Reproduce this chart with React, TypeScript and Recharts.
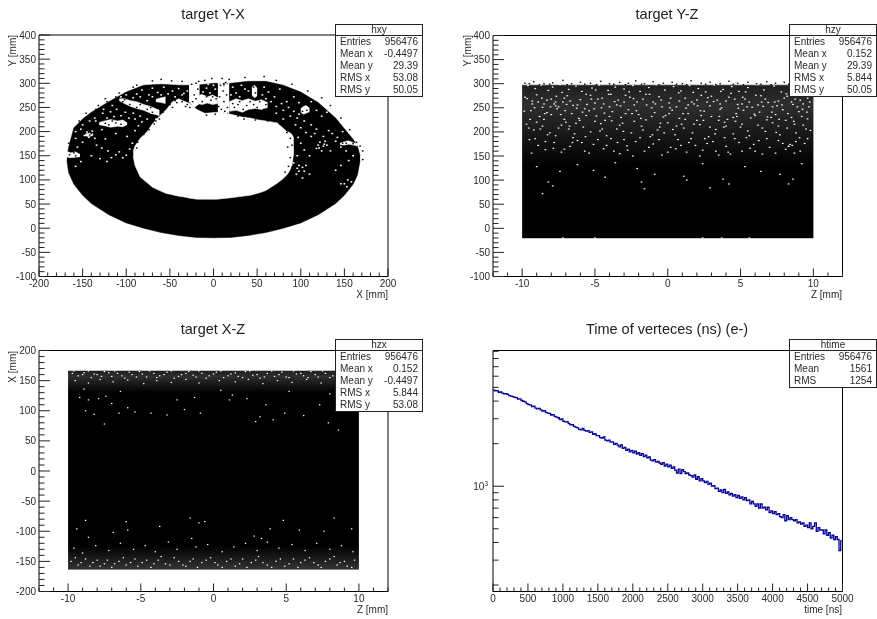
import { ComposedChart, Area, Line, Scatter, XAxis, YAxis } from "recharts";

// ---- values ----
const ringX = [-168, -166, -160, -150, -140, -120, -100, -80, -60, -40, -20, 0, 20, 40, 60, 80, 100, 120, 140, 150, 160, 165, 168];
const ringLow = [140, 115, 91, 68, 51, 28, 11, 0, -9, -15, -19, -20, -19, -15, -9, 0, 11, 28, 51, 68, 91, 110, 140];
const ringHigh = [150, 168, 208, 226, 240, 262, 282, 296, 298, 296, 296, 300, 300, 304, 304, 296, 282, 260, 228, 206, 184, 170, 150];
const holeX = [-92, -90, -84, -76, -70, -62, -54, -47, -40, -35, -27, -19, -10, 4, 20, 33, 42, 52, 60, 73, 78, 84, 87, 90, 92];
const holeLow = [148, 130, 106, 94, 85, 78, 72, 69, 66, 65, 62, 60, 60, 60, 63, 66, 68, 73, 78, 93, 100, 110, 118, 130, 155];
const holeHigh = [160, 170, 186, 200, 216, 232, 246, 262, 268, 264, 258, 246, 238, 240, 236, 230, 228, 224, 222, 218, 210, 200, 188, 174, 160];

const yxGaps: number[][][] = [
  [[-131, 214, 219], [-125, 212, 222], [-118, 209, 225], [-110, 211, 222], [-104, 210, 224], [-99, 214, 219]],
  [[-108, 264, 268], [-102, 258, 268], [-95, 252, 264], [-88, 248, 262], [-80, 244, 256], [-72, 238, 252], [-62, 233, 244]],
  [[-28, 262, 312], [-25, 256, 304], [-22, 250, 309], [-19, 254, 296], [-16, 258, 306]],
  [[-19, 258, 274], [-13, 256, 277], [-7, 259, 272], [-1, 256, 276], [5, 258, 270]],
  [[5, 236, 312], [7, 240, 298], [9, 234, 306], [12, 240, 292], [14, 234, 302], [16, 240, 296], [18, 236, 310]],
  [[18, 242, 262], [26, 244, 268], [33, 240, 264], [40, 246, 268], [48, 248, 263], [55, 246, 266], [62, 250, 260]],
  [[44, 276, 292], [47, 270, 296], [50, 274, 290]],
  [[100, 240, 248], [103, 236, 252], [106, 238, 254], [110, 241, 249]],
  [[145, 173, 176], [150, 172, 179], [155, 174, 181], [160, 172, 177], [165, 170, 175]],
  [[-169, 148, 160], [-164, 146, 156], [-158, 147, 158], [-153, 148, 153]],
  [[-147, 191, 195], [-142, 190, 197], [-138, 192, 196]],
  [[85, 194, 200], [89, 176, 196], [92, 160, 188]],
  [[-66, 262, 267], [-60, 260, 270], [-55, 258, 272]],
];

const yxWhite = [
  [-152, 205], [-148, 192], [-145, 199], [-143, 188], [-139, 201], [-136, 186], [-150, 178], [-156, 168], [-158, 186], [-134, 172], [-128, 166], [-112, 152],
  [-108, 158], [-104, 146], [-100, 151], [-117, 146], [-121, 160], [-96, 164], [-93, 176], [-99, 190], [-90, 202], [-86, 212], [-112, 196], [-124, 185],
  [-127, 238], [-118, 241], [-111, 246], [-136, 228], [-142, 222], [-128, 204], [-106, 233], [-92, 238], [-84, 232], [-76, 226], [-71, 238], [-66, 226],
  [-88, 278], [-82, 286], [-74, 276], [-70, 290], [-64, 281], [-57, 292], [-47, 284], [-40, 289], [-34, 279], [-8, 290], [-4, 280], [0, 296], [-10, 268],
  [26, 280], [32, 296], [40, 284], [58, 292], [63, 282], [70, 272], [76, 288], [84, 262], [92, 272], [98, 260], [112, 262], [118, 244], [124, 232], [130, 240],
  [96, 228], [104, 222], [112, 214], [118, 205], [126, 190], [122, 178], [130, 172], [118, 165], [124, 160], [128, 180], [136, 196], [142, 188], [132, 202],
  [146, 168], [152, 160], [160, 150], [155, 140], [150, 92], [153, 86], [158, 96], [98, 118], [102, 126], [95, 112], [106, 130], [110, 112], [92, 135],
  [-140, 150], [-130, 144], [-122, 138], [-152, 138], [-158, 128], [-75, 148], [-66, 128], [140, 120], [146, 130], [-150, 214], [-158, 200], [72, 238], [80, 244],
  [-135, 222], [-122, 228], [-114, 231], [-101, 240], [-97, 228], [-90, 226], [-82, 220], [-126, 246], [-116, 254], [-106, 272], [-100, 276], [-92, 270], [-84, 272], [-76, 264], [-70, 272], [-60, 276], [-52, 278], [-44, 272], [-36, 276], [-30, 284],
  [-12, 282], [-6, 298], [2, 288], [20, 276], [22, 292], [30, 272], [36, 288], [56, 276], [60, 268], [66, 262], [72, 252], [78, 258], [86, 250], [92, 242], [98, 236], [88, 232], [80, 226], [94, 214], [100, 208], [106, 198],
  [112, 190], [116, 196], [120, 172], [126, 170], [121, 166], [127, 174], [134, 160], [110, 150], [104, 162], [100, 176], [97, 188], [96, 150], [102, 104], [96, 124], [98, 130], [104, 118], [154, 100], [146, 92], [140, 180], [148, 200],
];
const yxBlack = [
  [-18, 288], [-22, 276], [-25, 298], [-17, 304], [-24, 262], [-20, 268], [8, 296], [11, 284], [14, 302], [7, 272], [12, 262], [16, 250], [9, 246], [15, 276],
  [-8, 272], [-3, 265], [3, 268], [-13, 262], [-1, 272], [22, 258], [30, 262], [38, 254], [46, 256], [53, 262], [60, 256], [48, 280], [46, 292], [52, 286],
  [-120, 214], [-112, 218], [-106, 215], [-124, 217], [-96, 256], [-88, 250], [-76, 246], [-70, 240], [-102, 266], [-92, 292], [-60, 308], [-48, 305], [-36, 304],
  [-2, 310], [18, 308], [36, 312], [58, 314], [72, 306], [90, 298], [108, 284], [124, 270], [134, 254], [146, 228], [156, 204], [-154, 222], [-146, 238], [-132, 254],
  [-124, 268], [-108, 280], [-88, 296], [-70, 305], [-52, 266], [-47, 250], [-58, 240], [-66, 222], [-76, 208], [-82, 198], [-30, 256], [-36, 262], [-42, 260],
  [28, 232], [35, 226], [48, 224], [62, 222], [76, 216], [84, 198], [88, 186], [90, 172], [93, 148], [94, 136], [90, 126], [96, 170], [102, 242], [107, 244],
  [152, 176], [160, 175], [-165, 152], [-158, 150], [-142, 193], [-88, 166], [-92, 180], [-80, 216], [-166, 176], [171, 142], [171, 160], [168, 170],
  [-50, 256], [-44, 264], [-39, 270], [-32, 252], [-27, 250], [-14, 244], [-8, 234], [2, 236], [-4, 250], [6, 252], [13, 242], [24, 250], [28, 256], [34, 246], [42, 262], [50, 250], [58, 246], [66, 240], [74, 232], [82, 222],
  [86, 210], [89, 200], [85, 168], [88, 146], [86, 128], [82, 116], [-94, 166], [-87, 178], [-80, 194], [-74, 204], [-68, 216], [-62, 226], [-72, 250], [-84, 256], [-94, 244], [-104, 262], [-112, 272], [-122, 262], [-135, 246], [-128, 224],
  [-116, 222], [-100, 222], [-132, 213], [-140, 196], [-160, 156], [-152, 150], [-148, 152], [148, 176], [164, 178], [92, 192], [96, 196], [-20, 300], [10, 310], [-10, 306],
];

const yzWhite = [
  [-9.6, 296], [-9.1, 290], [-8.7, 297], [-8.2, 286], [-7.9, 293], [-7.4, 298], [-6.8, 288], [-6.3, 295], [-5.9, 284], [-5.2, 291], [-4.7, 297], [-4.1, 286], [-3.6, 293], [-3.0, 289], [-2.4, 296], [-1.9, 284], [-1.3, 292], [-0.8, 298], [-0.2, 287], [0.4, 294], [0.9, 285], [1.5, 296], [2.1, 290], [2.6, 283], [3.2, 297], [3.8, 288], [4.4, 294], [4.9, 284], [5.5, 292], [6.1, 298], [6.6, 287], [7.3, 295], [7.8, 283], [8.4, 291], [8.9, 297], [9.5, 288],
  [-9.8, 272], [-9.3, 264], [-9.0, 277], [-8.5, 258], [-8.0, 268], [-7.7, 254], [-7.2, 262], [-6.9, 275], [-6.5, 255], [-6.0, 267], [-5.6, 278], [-5.0, 260], [-4.5, 270], [-4.0, 252], [-3.4, 266], [-2.9, 276], [-2.3, 256], [-1.7, 268], [-1.1, 250], [-0.6, 273], [0.1, 260], [0.6, 252], [1.2, 270], [1.8, 258], [2.3, 276], [2.9, 254], [3.4, 266], [3.7, 250], [4.2, 272], [4.8, 257], [5.3, 268], [5.8, 251], [6.4, 275], [6.9, 261], [7.5, 254], [8.0, 270], [8.6, 257], [9.1, 266], [9.7, 252],
  [-9.4, 244], [-8.8, 232], [-8.3, 240], [-7.6, 248], [-7.1, 226], [-6.6, 238], [-6.1, 228], [-5.4, 244], [-4.9, 233], [-4.3, 224], [-3.8, 242], [-3.2, 230], [-2.7, 246], [-2.0, 236], [-1.5, 225], [-0.9, 240], [-0.3, 231], [0.3, 245], [0.8, 228], [1.4, 238], [2.0, 224], [2.5, 243], [3.0, 232], [3.6, 247], [4.1, 226], [4.7, 238], [5.2, 245], [5.7, 229], [6.3, 241], [6.8, 225], [7.4, 236], [7.9, 246], [8.5, 230], [9.0, 242], [9.6, 227],
  [-9.7, 216], [-9.2, 204], [-8.6, 212], [-8.1, 198], [-7.5, 208], [-7.0, 220], [-6.4, 196], [-5.8, 210], [-5.3, 200], [-4.6, 217], [-4.2, 192], [-3.5, 206], [-3.1, 218], [-2.5, 198], [-1.8, 212], [-1.2, 190], [-0.7, 204], [0.0, 219], [0.5, 194], [1.1, 208], [1.7, 198], [2.2, 215], [2.8, 190], [3.3, 205], [3.9, 220], [4.5, 196], [5.0, 210], [5.6, 192], [6.2, 214], [6.7, 201], [7.2, 219], [7.7, 194], [8.2, 208], [8.8, 198], [9.3, 214], [9.8, 203],
  [-9.5, 184], [-8.9, 172], [-8.4, 163], [-7.8, 178], [-7.3, 158], [-6.7, 170], [-6.2, 182], [-5.7, 160], [-5.1, 174], [-4.4, 165], [-3.9, 186], [-3.3, 155], [-2.8, 171], [-2.2, 180], [-1.6, 160], [-1.0, 175], [-0.4, 152], [0.2, 168], [0.7, 184], [1.3, 158], [1.9, 172], [2.4, 162], [3.1, 180], [3.5, 152], [4.0, 170], [4.6, 186], [5.1, 160], [5.9, 174], [6.5, 154], [7.0, 168], [7.6, 182], [8.3, 170], [8.1, 164], [8.7, 156], [9.4, 176],
  [-9.0, 128], [-8.2, 96], [-7.9, 88], [-7.4, 118], [-6.2, 132], [-5.1, 120], [-4.3, 106], [-3.6, 136], [-2.1, 124], [-1.8, 96], [-0.9, 112], [1.1, 108], [1.3, 100], [2.4, 134], [2.9, 84], [3.8, 102], [4.2, 92], [5.3, 128], [6.4, 118], [7.7, 112], [8.3, 92], [8.6, 102], [9.2, 134], [-8.6, 72], [-1.6, 82],
  [-7.2, -20], [-5.0, -20], [2.4, -20], [3.7, -20], [5.6, -20],
  [-9.3, 258], [-8.9, 262], [-8.6, 251], [-8.3, 266], [-7.8, 258], [-7.5, 252], [-7.7, 262], [-7.1, 270], [-6.7, 264], [-6.2, 256], [-5.7, 248], [-5.3, 276], [-4.8, 268], [-4.4, 258], [-3.9, 278], [-3.5, 256], [-3.0, 262], [-2.6, 272], [-2.1, 262], [-1.5, 278], [-1.0, 262], [-0.4, 252], [0.2, 270], [0.8, 264], [1.4, 256], [2.0, 266], [2.7, 262], [3.0, 274], [3.6, 258], [4.0, 264], [4.6, 268], [5.1, 258], [5.6, 262], [6.2, 256], [6.7, 268], [7.2, 252], [7.6, 264], [8.2, 274], [8.5, 262], [8.9, 252], [9.3, 258], [9.6, 270],
  [-9.0, 220], [-8.5, 226], [-8.0, 236], [-7.3, 214], [-6.8, 206], [-6.3, 218], [-5.6, 234], [-5.0, 222], [-4.5, 206], [-4.0, 232], [-3.3, 214], [-2.9, 238], [-2.3, 222], [-1.7, 204], [-1.1, 232], [-0.5, 218], [0.1, 238], [0.6, 212], [1.2, 226], [1.8, 216], [2.3, 234], [2.9, 210], [3.5, 224], [4.0, 212], [4.5, 230], [5.1, 216], [5.5, 202], [6.0, 234], [6.5, 208], [7.1, 230], [7.6, 212], [8.1, 224], [8.3, 170], [8.4, 174], [8.7, 216], [9.2, 232], [9.5, 206],
  [-9.1, 186], [-8.4, 180], [-7.7, 192], [-7.1, 164], [-6.5, 188], [-5.9, 178], [-5.4, 156], [-4.8, 184], [-4.2, 172], [-3.7, 160], [-3.0, 184], [-2.4, 150], [-1.9, 188], [-1.3, 168], [-0.6, 184], [0.0, 158], [0.9, 172], [1.6, 186], [2.2, 150], [2.7, 176], [3.3, 160], [3.9, 188], [4.3, 154], [4.9, 178], [5.4, 188], [6.0, 160], [6.8, 186], [7.4, 156], [7.9, 176], [8.8, 180], [9.1, 160], [9.6, 186],
  [3.15, 263], [-6.25, 249], [8.15, 279], [-1.45, 256], [5.95, 237], [-9.65, 269], [0.75, 281], [-3.85, 223], [6.55, 253], [-7.65, 274], [2.25, 244], [-4.95, 287], [9.25, 247], [-0.15, 234], [4.35, 280], [-8.45, 238], [1.65, 262], [-5.55, 257], [7.15, 241], [-2.65, 283],
  [8.65, 222], [-6.75, 212], [0.35, 205], [-9.45, 226], [4.85, 249], [-2.15, 244], [6.05, 276], [-4.35, 239], [2.75, 271], [-8.05, 252], [9.45, 281], [-0.85, 258], [3.55, 232], [-5.25, 268], [7.35, 262], [-7.35, 236], [1.25, 249], [-3.25, 254], [5.35, 283], [-9.85, 243],
  [0.95, 216], [-6.05, 224], [8.25, 238], [-1.85, 228], [4.65, 222], [-8.75, 206], [2.05, 254], [-4.05, 278], [6.85, 231], [-7.25, 282], [9.75, 262], [-0.45, 266], [3.85, 210], [-5.05, 248], [7.85, 256], [-3.05, 201], [1.75, 282], [-9.15, 250], [5.15, 272], [-2.35, 269],
  [6.25, 182], [-8.25, 194], [0.55, 165], [-4.65, 202], [3.25, 196], [-6.55, 178], [9.05, 188], [-1.05, 194], [4.15, 158], [-7.85, 166], [7.45, 199], [-3.45, 178], [2.55, 186], [-5.65, 190], [8.55, 172], [-0.25, 198], [5.65, 166], [-9.35, 156], [1.45, 178], [-2.75, 162],
  [9.55, 241], [-6.95, 257], [3.65, 284], [-1.25, 278], [7.65, 226], [-5.85, 241], [0.15, 250], [-8.65, 270], [4.75, 232], [-3.65, 263], [6.45, 262], [-7.05, 244], [2.45, 224], [-4.55, 250], [8.75, 268], [-0.55, 210], [5.45, 252], [-9.55, 208], [1.05, 238], [-2.45, 238],
];
const yzBlack = [
  [-9.8, 301], [-9.2, 304], [-8.5, 300], [-7.9, 302], [-7.2, 307], [-6.6, 300], [-6.0, 303], [-5.3, 301], [-4.6, 305], [-4.0, 300], [-3.3, 303], [-2.7, 301], [-2.2, 306], [-1.6, 300], [-1.0, 304], [-0.3, 301], [0.3, 303], [1.0, 300], [1.6, 306], [2.3, 301], [2.9, 303], [3.6, 300], [4.2, 305], [4.8, 301], [5.5, 303], [6.1, 300], [6.8, 304], [7.4, 301], [8.0, 303], [8.6, 300], [9.3, 302], [9.8, 300],
  [-9.5, 300], [-8.8, 298], [-8.1, 299], [-6.9, 298], [-5.7, 299], [-4.9, 298], [-3.7, 299], [-2.9, 298], [-1.8, 299], [-0.6, 298], [0.6, 299], [1.3, 298], [2.6, 299], [3.3, 298], [4.5, 299], [5.2, 298], [6.4, 299], [7.1, 298], [8.3, 299], [9.0, 298], [9.6, 299],
];

const zxWhite = [
  [-9.7, 162], [-9.3, 158], [-8.9, 163], [-8.4, 155], [-8.0, 160], [-7.5, 165], [-7.0, 157], [-6.6, 162], [-6.1, 154], [-5.6, 160], [-5.1, 165], [-4.6, 156], [-4.1, 162], [-3.7, 158], [-3.2, 164], [-2.7, 154], [-2.2, 160], [-1.7, 165], [-1.2, 156], [-0.8, 162], [-0.3, 158], [0.2, 164], [0.7, 155], [1.2, 161], [1.7, 157], [2.2, 165], [2.7, 159], [3.2, 154], [3.7, 162], [4.2, 157], [4.7, 164], [5.2, 155], [5.7, 161], [6.2, 158], [6.7, 165], [7.2, 156], [7.7, 162], [8.2, 158], [8.7, 164], [9.2, 155], [9.7, 161],
  [-9.5, 150], [-8.6, 146], [-7.8, 152], [-6.9, 148], [-5.9, 151], [-4.8, 145], [-3.9, 150], [-2.9, 147], [-1.9, 152], [-1.0, 146], [0.4, 150], [1.5, 148], [2.4, 152], [3.4, 145], [4.4, 150], [5.4, 147], [6.4, 152], [7.4, 146], [8.4, 150], [9.4, 148],
  [-9.6, 166], [-9.0, 160], [-8.6, 166], [-8.2, 161], [-7.7, 157], [-7.2, 163], [-6.8, 166], [-6.3, 158], [-5.8, 164], [-5.3, 156], [-4.9, 161], [-4.4, 166], [-3.9, 155], [-3.4, 160], [-2.9, 166], [-2.4, 157], [-1.9, 162], [-1.4, 159], [-1.0, 166], [-0.5, 154], [0.0, 161], [0.5, 166], [1.0, 158], [1.5, 163], [2.0, 155], [2.5, 166], [3.0, 160], [3.5, 156], [4.0, 166], [4.5, 160], [5.0, 156], [5.5, 166], [6.0, 162], [6.5, 155], [7.0, 160], [7.5, 166], [8.0, 155], [8.5, 160], [9.0, 166], [9.5, 158],
  [-9.2, 122], [-8.6, 118], [-7.9, 120], [-7.4, 124], [-7.0, 112], [-8.8, 100], [-8.2, 94], [-6.5, 96], [-5.9, 105], [-5.4, 98], [-4.3, 96], [-3.2, 93], [-2.5, 118], [-2.0, 102], [-1.3, 122], [-0.9, 96], [1.1, 118], [1.3, 126], [2.3, 120], [2.9, 82], [3.2, 90], [3.6, 110], [4.1, 85], [4.9, 96], [6.2, 92], [7.3, 110], [7.9, 80], [8.4, 100], [8.6, 68], [-7.5, 78], [-8.9, 136], [-6.4, 132], [0.5, 134], [5.2, 132], [8.0, 128],
  [-9.4, -96], [-8.6, -110], [-8.8, -82], [-6.9, -102], [-6.0, -84], [-5.9, -98], [-3.7, -92], [-1.6, -78], [-1.0, -86], [-0.6, -84], [2.8, -108], [3.3, -112], [3.9, -96], [4.8, -82], [5.9, -98], [7.6, -100], [8.3, -78], [9.5, -96],
  [-9.6, -128], [-9.0, -136], [-8.1, -124], [-7.2, -132], [-6.4, -120], [-5.5, -130], [-4.7, -124], [-4.0, -134], [-3.1, -118], [-2.5, -130], [-1.5, -112], [-1.2, -126], [-0.4, -122], [0.6, -134], [1.4, -126], [2.2, -120], [3.0, -132], [3.7, -118], [4.5, -128], [5.4, -122], [6.3, -132], [7.1, -120], [8.0, -130], [8.8, -124], [9.6, -134],
  [-9.8, -150], [-9.3, -156], [-8.8, -146], [-8.3, -152], [-7.8, -158], [-7.3, -148], [-6.8, -154], [-6.2, -144], [-5.7, -152], [-5.2, -158], [-4.6, -148], [-4.1, -154], [-3.6, -142], [-3.0, -156], [-2.4, -150], [-1.9, -158], [-1.4, -146], [-0.8, -152], [-0.2, -144], [0.3, -156], [0.9, -150], [1.5, -158], [2.0, -146], [2.6, -152], [3.1, -142], [3.7, -156], [4.3, -150], [4.9, -158], [5.5, -146], [6.0, -152], [6.6, -144], [7.2, -156], [7.7, -150], [8.3, -142], [8.7, -152], [9.2, -158], [9.7, -148],
  [-9.5, -144], [-9.1, -152], [-8.5, -158], [-8.0, -148], [-7.5, -154], [-7.0, -160], [-6.5, -150], [-6.0, -156], [-5.4, -146], [-4.9, -152], [-4.3, -160], [-3.8, -148], [-3.3, -154], [-2.7, -144], [-2.1, -156], [-1.6, -150], [-1.1, -160], [-0.5, -148], [0.1, -152], [0.6, -160], [1.2, -146], [1.8, -154], [2.3, -160], [2.9, -148], [3.4, -152], [4.0, -160], [4.6, -146], [5.2, -154], [5.8, -160], [6.3, -148], [6.9, -152], [7.4, -160], [8.0, -146], [8.5, -156], [9.0, -150], [9.5, -160],
];

const timeStep = 25;
const timeCounts = [
  4790, 4720, 4740, 4620, 4650, 4560, 4510, 4520, 4470, 4380, 4340, 4300, 4250, 4230, 4130, 4150, 4040, 3990, 3950, 3840,
  3780, 3760, 3660, 3690, 3570, 3530, 3550, 3470, 3400, 3430, 3330, 3290, 3270, 3190, 3210, 3120, 3080, 3050, 2960, 2990,
  2880, 2850, 2860, 2770, 2720, 2730, 2650, 2620, 2590, 2520, 2500, 2560, 2480, 2450, 2470, 2400, 2420, 2330, 2350, 2280,
  2280, 2210, 2190, 2230, 2120, 2090, 2120, 2050, 2060, 1980, 2010, 1950, 1900, 1960, 1850, 1880, 1790, 1830, 1750, 1790,
  1720, 1770, 1690, 1730, 1650, 1700, 1620, 1660, 1590, 1610, 1530, 1510, 1540, 1480, 1500, 1460, 1430, 1470, 1390, 1430,
  1370, 1410, 1340, 1370, 1300, 1240, 1320, 1230, 1310, 1270, 1230, 1240, 1200, 1190, 1160, 1200, 1120, 1170, 1090, 1130,
  1090, 1060, 1080, 1030, 1050, 1000, 1010, 960, 970, 920, 940, 900, 950, 890, 910, 870, 890, 850, 870, 830,
  860, 820, 840, 800, 830, 790, 800, 750, 780, 750, 720, 750, 700, 750, 700, 710, 680, 710, 650, 670,
  640, 660, 630, 640, 610, 600, 630, 570, 620, 580, 600, 580, 570, 580, 550, 560, 540, 550, 520, 530,
  510, 550, 500, 520, 550, 480, 510, 490, 490, 460, 490, 450, 470, 430, 450, 420, 440, 420, 350, 410, 410,
];

const ticksEvery10Y = [-100, -90, -80, -70, -60, -50, -40, -30, -20, -10, 0, 10, 20, 30, 40, 50, 60, 70, 80, 90, 100, 110, 120, 130, 140, 150, 160, 170, 180, 190, 200, 210, 220, 230, 240, 250, 260, 270, 280, 290, 300, 310, 320, 330, 340, 350, 360, 370, 380, 390, 400];
const majorY = [-100, -50, 0, 50, 100, 150, 200, 250, 300, 350, 400];
const ticksEvery10X = [-200, -190, -180, -170, -160, -150, -140, -130, -120, -110, -100, -90, -80, -70, -60, -50, -40, -30, -20, -10, 0, 10, 20, 30, 40, 50, 60, 70, 80, 90, 100, 110, 120, 130, 140, 150, 160, 170, 180, 190, 200];
const majorX = [-200, -150, -100, -50, 0, 50, 100, 150, 200];
const ticksZ = [-12, -11, -10, -9, -8, -7, -6, -5, -4, -3, -2, -1, 0, 1, 2, 3, 4, 5, 6, 7, 8, 9, 10, 11, 12];
const majorZ = [-10, -5, 0, 5, 10];
const ticksTime = [0, 100, 200, 300, 400, 500, 600, 700, 800, 900, 1000, 1100, 1200, 1300, 1400, 1500, 1600, 1700, 1800, 1900, 2000, 2100, 2200, 2300, 2400, 2500, 2600, 2700, 2800, 2900, 3000, 3100, 3200, 3300, 3400, 3500, 3600, 3700, 3800, 3900, 4000, 4100, 4200, 4300, 4400, 4500, 4600, 4700, 4800, 4900, 5000];
const majorTime = [0, 500, 1000, 1500, 2000, 2500, 3000, 3500, 4000, 4500, 5000];
const ticksLog = [200, 300, 400, 500, 600, 700, 800, 900, 1000, 2000, 3000, 4000, 5000, 6000, 7000, 8000, 9000];

const statsYX = [["Entries", "956476"], ["Mean x", "-0.4497"], ["Mean y", "29.39"], ["RMS x", "53.08"], ["RMS y", "50.05"]];
const statsYZ = [["Entries", "956476"], ["Mean x", "0.152"], ["Mean y", "29.39"], ["RMS x", "5.844"], ["RMS y", "50.05"]];
const statsZX = [["Entries", "956476"], ["Mean x", "0.152"], ["Mean y", "-0.4497"], ["RMS x", "5.844"], ["RMS y", "53.08"]];
const statsTime = [["Entries", "956476"], ["Mean", "1561"], ["RMS", "1254"]];

// ---- tables for the library ----
const W = 877;
const H = 619;
const FONT = '"Liberation Sans", Arial, sans-serif';
const TEXT = "#2a2a2a";

const bandsOf = (xs: number[], lows: number[], highs: number[]) => xs.map((x, i) => ({ x, band: [lows[i], highs[i]] }));
const gapOf = (rows: number[][]) => rows.map((r) => ({ x: r[0], band: [r[1], r[2]] }));
const pointsOf = (rows: number[][]) => rows.map((r) => ({ x: r[0], y: r[1] }));

const ringData = bandsOf(ringX, ringLow, ringHigh);
const holeData = bandsOf(holeX, holeLow, holeHigh);
const timeData = timeCounts.map((v, i) => ({ x: i * timeStep, y: v }));

const yzBody = bandsOf([-10, 10], [-20, -20], [297, 297]);
const yzHaze = bandsOf([-10, 10], [130, 130], [297, 297]);
const zxBody = bandsOf([-10, 10], [-163, -163], [166, 166]);
const zxHazeTop = bandsOf([-10, 10], [130, 130], [166, 166]);
const zxHazeBottom = bandsOf([-10, 10], [-163, -163], [-125, -125]);

const speck = (w: number, h: number, fill: string) => (p: any) => (
  <rect x={p.cx - w / 2} y={p.cy - h / 2} width={w} height={h} fill={fill} />
);

const bottomTick = (majors: number[]) => (p: any) => {
  const v = p.payload.value;
  const big = majors.includes(v);
  return (
    <g>
      <line x1={p.x} x2={p.x} y1={p.y} y2={p.y - (big ? 8 : 4)} stroke="#222" />
      {big && (
        <text x={p.x} y={p.y + 10} textAnchor="middle" fontSize={10} fontFamily={FONT} fill={TEXT}>
          {v}
        </text>
      )}
    </g>
  );
};

const leftTick = (majors: number[]) => (p: any) => {
  const v = p.payload.value;
  const big = majors.includes(v);
  return (
    <g>
      <line x1={p.x} x2={p.x + (big ? 11 : 5.5)} y1={p.y} y2={p.y} stroke="#222" />
      {big && (
        <text x={p.x - 3} y={p.y + 3.5} textAnchor="end" fontSize={10} fontFamily={FONT} fill={TEXT}>
          {v}
        </text>
      )}
    </g>
  );
};

const logTick = (p: any) => {
  const v = p.payload.value;
  const big = v === 1000;
  return (
    <g>
      <line x1={p.x} x2={p.x + (big ? 11 : 5.5)} y1={p.y} y2={p.y} stroke="#222" />
      {big && (
        <text x={p.x - 5} y={p.y + 3.5} textAnchor="end" fontSize={10} fontFamily={FONT} fill={TEXT}>
          10
          <tspan fontSize={6.5} dy={-4}>
            3
          </tspan>
        </text>
      )}
    </g>
  );
};

function StatBox({ name, rows, left, top }: { name: string; rows: string[][]; left: number; top: number }) {
  return (
    <div
      style={{
        position: "absolute",
        left,
        top,
        width: 88,
        height: rows.length * 12 + 13,
        boxSizing: "border-box",
        border: "1px solid #222",
        background: "#fff",
        fontFamily: FONT,
        fontSize: 10,
        color: TEXT,
        zIndex: 5,
      }}
    >
      <div style={{ height: 10, lineHeight: "10px", textAlign: "center", borderBottom: "1px solid #222" }}>{name}</div>
      <div style={{ padding: "0 4px" }}>
        {rows.map((r) => (
          <div key={r[0]} style={{ display: "flex", justifyContent: "space-between", height: 12, lineHeight: "12px" }}>
            <span>{r[0]}</span>
            <span>{r[1]}</span>
          </div>
        ))}
      </div>
    </div>
  );
}

function Caption({ text, x, y, size = 10, anchor = "center", rotate = false }: any) {
  const shift = anchor === "center" ? "-50%" : anchor === "end" ? "-100%" : "0";
  return (
    <div
      style={{
        position: "absolute",
        left: x,
        top: y,
        whiteSpace: "nowrap",
        fontFamily: FONT,
        fontSize: size,
        lineHeight: 1,
        color: size > 12 ? "#222" : TEXT,
        transformOrigin: "0 0",
        transform: rotate ? "rotate(-90deg) translate(-100%, 0)" : `translate(${shift}, -50%)`,
      }}
    >
      {text}
    </div>
  );
}

interface PanelProps {
  left: number;
  right: number;
  top: number;
  bottom: number;
  xDomain: number[];
  yDomain: number[];
  xTicks: number[];
  xMajors: number[];
  yTicks: number[];
  yMajors?: number[];
  log?: boolean;
  children: any;
}

function Panel({ left, right, top, bottom, xDomain, yDomain, xTicks, xMajors, yTicks, yMajors, log, children }: PanelProps) {
  // the four axes are 1px thick, so the margins stop 1px short of the frame
  return (
    <div style={{ position: "absolute", left: 0, top: 0 }}>
      <ComposedChart width={W} height={H} margin={{ left: left - 1, top: top - 1, right: W - right - 1, bottom: H - bottom - 1 }}>
        <defs>
          <linearGradient id="hazeUp" x1="0" y1="1" x2="0" y2="0">
            <stop offset="0" stopColor="#fff" stopOpacity={0} />
            <stop offset="0.75" stopColor="#fff" stopOpacity={0.18} />
            <stop offset="1" stopColor="#fff" stopOpacity={0.12} />
          </linearGradient>
          <linearGradient id="hazeDown" x1="0" y1="0" x2="0" y2="1">
            <stop offset="0" stopColor="#fff" stopOpacity={0} />
            <stop offset="1" stopColor="#fff" stopOpacity={0.2} />
          </linearGradient>
        </defs>
        <XAxis dataKey="x" type="number" domain={xDomain} ticks={xTicks} interval={0} height={1} tickLine={false} tickSize={0} tickMargin={0} allowDataOverflow stroke="#000" tick={bottomTick(xMajors)} />
        <XAxis xAxisId="top" orientation="top" dataKey="x" type="number" domain={xDomain} height={1} tick={false} tickLine={false} allowDataOverflow stroke="#000" />
        <YAxis dataKey="y" type="number" scale={log ? "log" : "linear"} domain={yDomain} ticks={yTicks} interval={0} width={1} tickLine={false} tickSize={0} tickMargin={0} allowDataOverflow stroke="#000" tick={log ? logTick : leftTick(yMajors || [])} />
        <YAxis yAxisId="right" orientation="right" dataKey="y" type="number" scale={log ? "log" : "linear"} domain={yDomain} width={1} tick={false} tickLine={false} allowDataOverflow stroke="#000" />
        {children}
      </ComposedChart>
    </div>
  );
}

const band = (key: string, data: any[], fill: string) => (
  <Area
    key={key}
    data={data}
    dataKey="band"
    type="linear"
    stroke={fill.startsWith("#") ? fill : "none"}
    strokeWidth={0.5}
    fill={fill}
    fillOpacity={1}
    dot={false}
    activeDot={false}
    legendType="none"
    isAnimationActive={false}
  />
);

export default function App() {
  return (
    <div style={{ position: "absolute", left: 0, top: 0, width: W, height: H, background: "#fff", overflow: "hidden", filter: "blur(0.35px)" }}>
      <Caption text="target Y-X" x={213} y={14} size={14.5} />
      <Caption text="target Y-Z" x={667} y={14} size={14.5} />
      <Caption text="target X-Z" x={213} y={329} size={14.5} />
      <Caption text="Time of verteces (ns) (e-)" x={667} y={329} size={14.5} />

      <Panel left={39} right={388} top={35} bottom={276.5} xDomain={[-200, 200]} yDomain={[-100, 400]} xTicks={ticksEvery10X} xMajors={majorX} yTicks={ticksEvery10Y} yMajors={majorY}>
        {band("ring", ringData, "#000")}
        {band("hole", holeData, "#fff")}
        {yxGaps.map((g, i) => band(`gap${i}`, gapOf(g), "#fff"))}
        <Scatter data={pointsOf(yxWhite)} fill="#fff" shape={speck(1.8, 1.5, "#fff")} isAnimationActive={false} />
        <Scatter data={pointsOf(yxBlack)} fill="#000" shape={speck(1.6, 1.4, "#000")} isAnimationActive={false} />
      </Panel>

      <Panel left={493} right={842.5} top={35.5} bottom={276.5} xDomain={[-12, 12]} yDomain={[-100, 400]} xTicks={ticksZ} xMajors={majorZ} yTicks={ticksEvery10Y} yMajors={majorY}>
        {band("body", yzBody, "#000")}
        {band("haze", yzHaze, "url(#hazeUp)")}
        <Scatter data={pointsOf(yzWhite)} fill="#fff" shape={speck(1.7, 1.2, "#fff")} isAnimationActive={false} />
        <Scatter data={pointsOf(yzBlack)} fill="#000" shape={speck(1.5, 1.3, "#000")} isAnimationActive={false} />
      </Panel>

      <Panel left={39} right={388} top={350.5} bottom={591.5} xDomain={[-12, 12]} yDomain={[-200, 200]} xTicks={ticksZ} xMajors={majorZ} yTicks={ticksEvery10X} yMajors={majorX}>
        {band("body", zxBody, "#000")}
        {band("hazeTop", zxHazeTop, "url(#hazeUp)")}
        {band("hazeBottom", zxHazeBottom, "url(#hazeDown)")}
        <Scatter data={pointsOf(zxWhite)} fill="#fff" shape={speck(1.4, 1.2, "#fff")} isAnimationActive={false} />
      </Panel>

      <Panel left={493} right={842.5} top={350.5} bottom={591.5} xDomain={[0, 5000]} yDomain={[180, 9120]} xTicks={ticksTime} xMajors={majorTime} yTicks={ticksLog} log>
        <Line data={timeData} dataKey="y" type="stepAfter" stroke="#000099" strokeWidth={1.3} dot={false} activeDot={false} isAnimationActive={false} />
      </Panel>

      <Caption text="Y [mm]" x={8} y={35} rotate />
      <Caption text="Y [mm]" x={463} y={35} rotate />
      <Caption text="X [mm]" x={8} y={351} rotate />
      <Caption text="X [mm]" x={388} y={295} anchor="end" />
      <Caption text="Z [mm]" x={842} y={295} anchor="end" />
      <Caption text="Z [mm]" x={388} y={610} anchor="end" />
      <Caption text="time [ns]" x={842} y={610} anchor="end" />

      <StatBox name="hxy" rows={statsYX} left={335} top={24} />
      <StatBox name="hzy" rows={statsYZ} left={789} top={24} />
      <StatBox name="hzx" rows={statsZX} left={335} top={339} />
      <StatBox name="htime" rows={statsTime} left={789} top={339} />
    </div>
  );
}
